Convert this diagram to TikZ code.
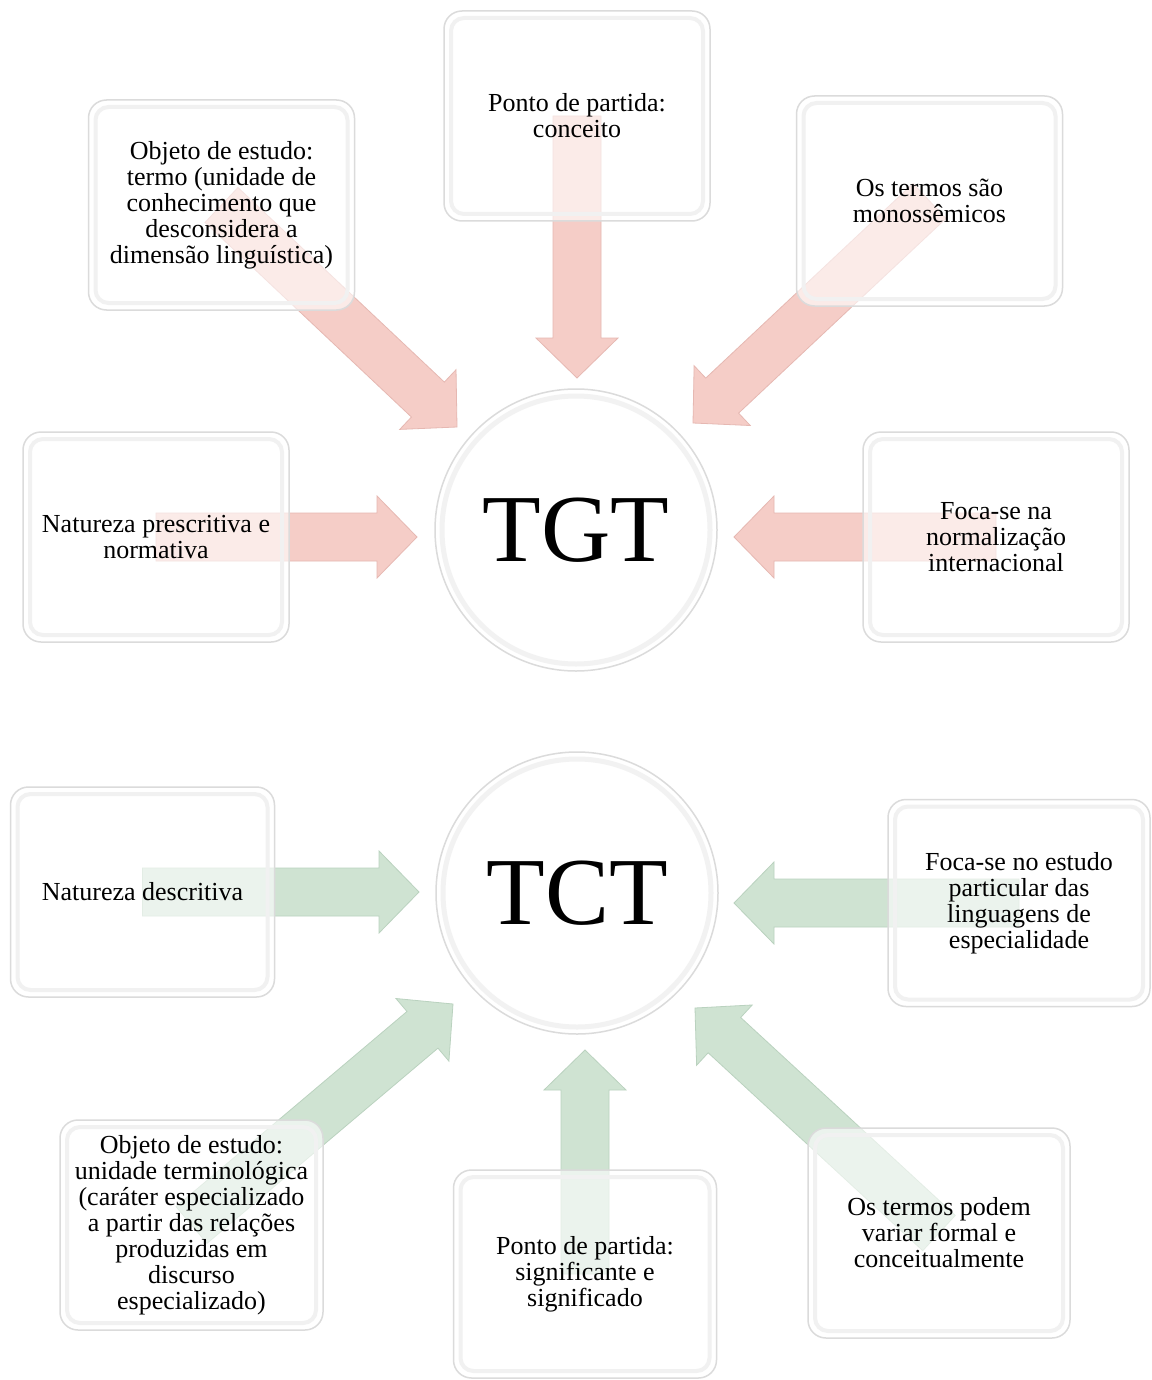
\documentclass[tikz,border=0pt]{standalone}
\usepackage{fontspec}
\setmainfont{Liberation Serif}
\usetikzlibrary{calc}
\definecolor{pinkA}{RGB}{245,205,199}
\definecolor{pinkE}{RGB}{230,184,178}
\definecolor{greenA}{RGB}{207,227,210}
\definecolor{greenE}{RGB}{186,210,191}
\pgfdeclarelayer{arrowlayer}
\pgfdeclarelayer{paper}
\pgfsetlayers{paper,arrowlayer,main}
\newcommand\fatarrow[3]{%
  \coordinate (hb) at ($(#2)!40pt!(#1)$);
  \filldraw[#3] ($(#1)!24pt!90:(#2)$) -- ($(hb)!24pt!90:(#2)$) -- ($(hb)!41pt!90:(#2)$) -- (#2)
    -- ($(hb)!41pt!-90:(#2)$) -- ($(hb)!24pt!-90:(#2)$) -- ($(#1)!24pt!-90:(#2)$) -- cycle;}
\tikzset{
  infobox/.style={rectangle, rounded corners=18pt, minimum width=266pt, minimum height=210pt,
    draw=gray!28, line width=1.5pt, fill=white, fill opacity=0.6, text opacity=1,
    align=center, inner sep=0pt, font=\fontsize{26}{26}\selectfont,
    path picture={\draw[gray!11, line width=4pt, rounded corners=13pt]
      ([shift={(7pt,7pt)}]path picture bounding box.south west) rectangle
      ([shift={(-7pt,-7pt)}]path picture bounding box.north east);}},
  hub/.style={circle, minimum size=282pt, inner sep=0pt, draw=gray!28, line width=1.5pt,
    fill=white, font=\fontsize{96}{100}\selectfont,
    path picture={\draw[gray!10, line width=5pt]
      (path picture bounding box.center) circle (134pt);}},
  pinkarrow/.style={fill=pinkA, draw=pinkE, line width=0.8pt},
  greenarrow/.style={fill=greenA, draw=greenE, line width=0.8pt}
}
\begin{document}
\begin{tikzpicture}[x=1pt,y=-1pt]
\useasboundingbox (0,0) rectangle (1151,1380);
\begin{pgfonlayer}{paper}
\fill[white] (0,0) rectangle (1151,1380);
\end{pgfonlayer}
% ---------- TGT ----------
\node[hub] (tgt) at (576,530) {TGT};
\node[infobox] (b1) at (221.5,205) {Objeto de estudo:\\termo (unidade de\\conhecimento que\\desconsidera a\\dimensão linguística)};
\node[infobox] (b2) at (577,116) {Ponto de partida:\\conceito};
\node[infobox] (b3) at (929.5,201) {Os termos são\\monossêmicos};
\node[infobox] (b4) at (156,537) {Natureza prescritiva e\\normativa};
\node[infobox] (b5) at (996,537) {Foca-se na\\normalização\\internacional};
% ---------- TCT ----------
\node[hub] (tct) at (577,893) {TCT};
\node[infobox, minimum width=264pt] (c1) at (142.5,892) {Natureza descritiva};
\node[infobox, minimum width=262pt, minimum height=207pt] (c2) at (1019,903) {Foca-se no estudo\\particular das\\linguagens de\\especialidade};
\node[infobox, minimum width=263pt] (c3) at (191.5,1225) {Objeto de estudo:\\unidade terminológica\\(caráter especializado\\a partir das relações\\produzidas em\\discurso\\especializado)};
\node[infobox, minimum width=263pt, minimum height=208pt] (c4) at (585,1274) {Ponto de partida:\\significante e\\significado};
\node[infobox, minimum width=262pt] (c5) at (939,1233) {Os termos podem\\variar formal e\\conceitualmente};
% arrow tips
\coordinate (p1) at (457,427);
\coordinate (p2) at (577,378);
\coordinate (p3) at (693,423);
\coordinate (p4) at (417,537);
\coordinate (p5) at (734,537);
\coordinate (q1) at (419,892);
\coordinate (q2) at (734,903);
\coordinate (q3) at (453,1004);
\coordinate (q4) at (585,1050);
\coordinate (q5) at (695,1008);
\begin{pgfonlayer}{arrowlayer}
\fatarrow{b1.center}{p1}{pinkarrow}
\fatarrow{b2.center}{p2}{pinkarrow}
\fatarrow{b3.center}{p3}{pinkarrow}
\fatarrow{b4.center}{p4}{pinkarrow}
\fatarrow{b5.center}{p5}{pinkarrow}
\fatarrow{c1.center}{q1}{greenarrow}
\fatarrow{c2.center}{q2}{greenarrow}
\fatarrow{c3.center}{q3}{greenarrow}
\fatarrow{c4.center}{q4}{greenarrow}
\fatarrow{c5.center}{q5}{greenarrow}
\end{pgfonlayer}
\end{tikzpicture}
\end{document}
